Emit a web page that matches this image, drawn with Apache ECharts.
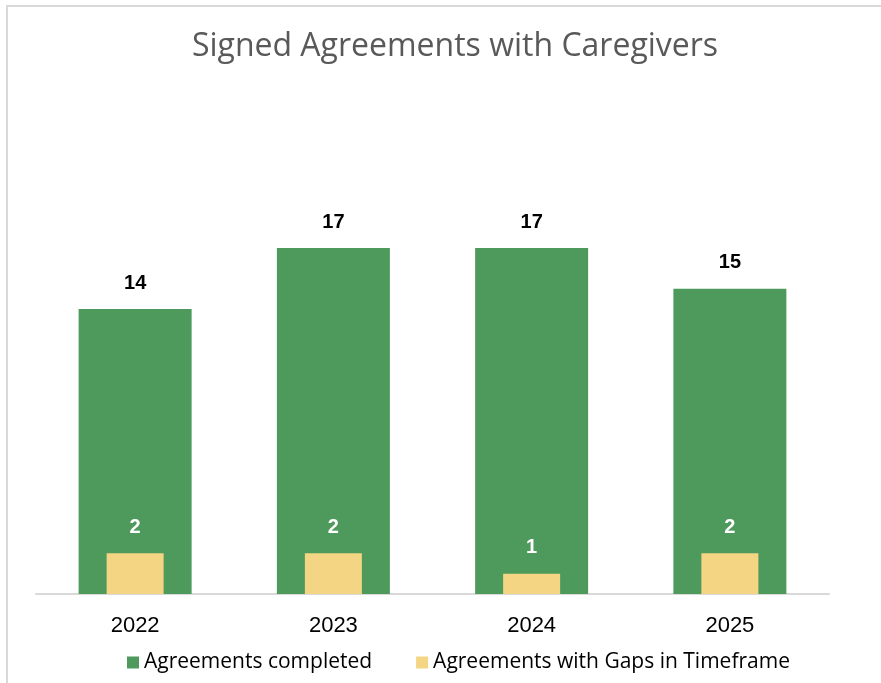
<!DOCTYPE html>
<html>
<head>
<meta charset="utf-8">
<style>
  html, body { margin: 0; padding: 0; background: #ffffff; }
  #chart { width: 881px; height: 683px; }
</style>
<script src="https://cdn.jsdelivr.net/npm/echarts@6/dist/echarts.min.js"></script>
</head>
<body>
<div id="chart"></div>
<script>
// Yearly counts of signed caregiver agreements
const years = ['2022', '2023', '2024', '2025'];
const completed = [14, 17, 17, 15];
const withGaps = [2, 2, 1, 2];

const chart = echarts.init(document.getElementById('chart'));

chart.setOption({
  animation: false,
  backgroundColor: '#ffffff',
  graphic: [{
    type: 'polyline',
    shape: { points: [[7, 690], [7, 6], [890, 6]] },
    style: { stroke: '#d9d9d9', lineWidth: 2, fill: null },
    silent: true
  }],
  title: {
    text: 'Signed Agreements with Caregivers',
    left: 450,
    top: 26,
    textAlign: 'center',
    textStyle: {
      fontFamily: 'Open Sans',
      fontSize: 32,
      fontWeight: 'normal',
      color: '#595959'
    }
  },
  legend: {
    bottom: 5,
    left: 122,
    icon: 'rect',
    itemWidth: 12,
    itemHeight: 12,
    itemGap: 44,
    textStyle: { fontFamily: 'Open Sans', fontSize: 21, color: '#000000' },
    data: ['Agreements completed', 'Agreements with Gaps in Timeframe']
  },
  grid: { left: 36, right: 52, top: 187, bottom: 89 },
  xAxis: [
    {
      type: 'category',
      data: years,
      axisLine: { lineStyle: { color: '#d9d9d9', width: 2 } },
      axisTick: { show: false },
      axisLabel: {
        margin: 21,
        fontFamily: 'Liberation Sans',
        fontSize: 22,
        color: '#000000'
      }
    },
    {
      type: 'category',
      data: years,
      show: false
    }
  ],
  yAxis: {
    type: 'value',
    min: 0,
    max: 20,
    show: false,
    splitLine: { show: false }
  },
  series: [
    {
      name: 'Agreements completed',
      type: 'bar',
      xAxisIndex: 0,
      data: completed,
      barWidth: 113,
      itemStyle: { color: '#4e9a5c' },
      label: {
        show: true,
        position: 'top',
        distance: 16,
        fontFamily: 'Liberation Sans',
        fontWeight: 'bold',
        fontSize: 20,
        color: '#000000'
      },
      z: 2
    },
    {
      name: 'Agreements with Gaps in Timeframe',
      type: 'bar',
      xAxisIndex: 1,
      data: withGaps,
      barWidth: 57,
      itemStyle: { color: '#f4d584' },
      label: {
        show: true,
        position: 'top',
        distance: 16,
        fontFamily: 'Liberation Sans',
        fontWeight: 'bold',
        fontSize: 20,
        color: '#ffffff'
      },
      z: 3
    }
  ]
});
</script>
</body>
</html>
